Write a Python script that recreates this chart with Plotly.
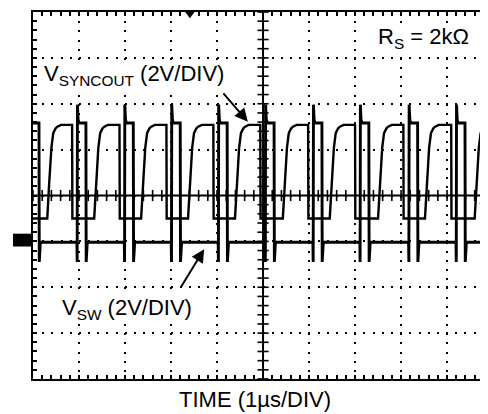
import plotly.graph_objects as go

# ---- data (time in µs = divisions, level in divisions) ----
sync_rise = [-0.72, 0.31, 1.33, 2.35, 3.37, 4.39, 5.43, 6.45, 7.50, 8.52, 9.60]
sync_fall = [-0.16, 0.85, 1.88, 2.90, 3.92, 4.94, 5.98, 7.00, 8.05, 9.09, 10.15]
rise_dt = [0.0, 0.04, 0.09, 0.13, 0.18, 0.22, 0.30]
rise_lvl = [-0.50, 0.24, 1.04, 1.36, 1.46, 1.50, 1.54]
sync_high = 1.54
sync_low = -0.50

sw_on = [-0.06, 0.96, 1.99, 3.01, 4.03, 5.05, 6.09, 7.11, 8.17, 9.20]
sw_off = [0.13, 1.15, 2.18, 3.20, 4.22, 5.24, 6.28, 7.30, 8.36, 9.39]
sw_base = -1.02
sw_plateau = 1.58
sw_peak = 1.98
sw_dip = -1.45

FONT = "Liberation Sans, Arial, Helvetica, sans-serif"
FS = 22

# ---- build VSYNCOUT trace ----
sx, sy = [-0.9], [sync_low]
for i, r in enumerate(sync_rise):
    for dt, v in zip(rise_dt, rise_lvl):
        sx.append(r + dt)
        sy.append(v)
    f = sync_fall[i]
    sx += [f, f + 0.006]
    sy += [sync_high, sync_low]

# ---- build VSW trace ----
wx, wy = [-0.9], [sw_base]
for on, off in zip(sw_on, sw_off):
    wx += [on - 0.006, on, on + 0.006, on + 0.02, on + 0.04, off, off + 0.006, off + 0.03]
    wy += [sw_base, sw_dip, sw_peak, sw_plateau + 0.08, sw_plateau, sw_plateau, sw_dip, sw_base]
wx.append(10.5)
wy.append(sw_base)

fig = go.Figure()
fig.add_trace(go.Scatter(x=sx, y=sy, mode="lines",
                         line=dict(color="black", width=2.4), hoverinfo="skip"))
fig.add_trace(go.Scatter(x=wx, y=wy, mode="lines",
                         line=dict(color="black", width=2.9), hoverinfo="skip"))

# centre graticule tick marks
minor_pos_y = [k * 0.2 for k in range(-20, 21) if k != 0]
minor_pos_x = [k * 0.2 for k in range(0, 50) if k != 25]
fig.add_trace(go.Scatter(x=[5] * len(minor_pos_y), y=minor_pos_y, mode="markers",
                         marker=dict(symbol="line-ew", size=8,
                                     line=dict(color="black", width=1.6)),
                         hoverinfo="skip"))
fig.add_trace(go.Scatter(x=minor_pos_x, y=[0] * len(minor_pos_x), mode="markers",
                         marker=dict(symbol="line-ns", size=8,
                                     line=dict(color="black", width=1.6)),
                         hoverinfo="skip"))

shapes = [
    # white patches behind the labels (grid dots do not show through the text)
    dict(type="rect", xref="x", yref="y", x0=0.15, x1=4.26, y0=2.35, y1=2.93,
         fillcolor="white", line=dict(width=0), layer="between"),
    dict(type="rect", xref="x", yref="y", x0=7.41, x1=9.59, y0=3.08, y1=3.72,
         fillcolor="white", line=dict(width=0), layer="between"),
    dict(type="rect", xref="x", yref="y", x0=0.54, x1=3.52, y0=-2.72, y1=-2.13,
         fillcolor="white", line=dict(width=0), layer="between"),
    dict(type="line", xref="x", yref="y", x0=5, x1=5, y0=-4, y1=4,
         line=dict(color="black", width=2)),
    dict(type="line", xref="x", yref="y", x0=0, x1=10, y0=0, y1=0,
         line=dict(color="black", width=2)),
    # ground marker for channel
    dict(type="rect", xref="paper", yref="paper", x0=-0.044, x1=0,
         y0=0.361, y1=0.396, fillcolor="black", line=dict(width=0)),
    # trigger position marker
    dict(type="path", xref="x", yref="paper",
         path="M 3.31,1 L 3.51,1 L 3.41,0.983 Z", fillcolor="black",
         line=dict(width=0)),
    # trigger level marker
    dict(type="path", xref="x", yref="y",
         path="M 9.70,-0.17 L 9.81,-0.10 L 9.81,-0.24 Z", fillcolor="black",
         line=dict(width=0)),
    dict(type="line", xref="x", yref="y", x0=9.78, x1=9.9, y0=-0.17, y1=-0.17,
         line=dict(color="black", width=1.6)),
]

annotations = [
    dict(text="V<sub>SYNCOUT</sub> (2V/DIV)", x=0.2, y=2.62, xref="x", yref="y",
         xanchor="left", yanchor="middle", showarrow=False,
         font=dict(family=FONT, size=FS, color="black")),
    dict(text="R<sub>S</sub> = 2kΩ", x=7.46, y=3.44, xref="x", yref="y",
         xanchor="left", yanchor="middle", showarrow=False,
         font=dict(family=FONT, size=FS, color="black")),
    dict(text="V<sub>SW</sub> (2V/DIV)", x=0.59, y=-2.47, xref="x", yref="y",
         xanchor="left", yanchor="middle", showarrow=False,
         font=dict(family=FONT, size=FS, color="black")),
    dict(text="TIME (1µs/DIV)", x=0.488, y=-0.057, xref="paper", yref="paper",
         xanchor="center", yanchor="middle", showarrow=False,
         font=dict(family=FONT, size=FS, color="black")),
    dict(text="", x=4.67, y=1.61, ax=4.11, ay=2.26, xref="x", yref="y",
         axref="x", ayref="y", showarrow=True, arrowhead=2, arrowsize=1.3,
         arrowwidth=2, arrowcolor="black"),
    dict(text="", x=3.72, y=-1.17, ax=3.2, ay=-2.02, xref="x", yref="y",
         axref="x", ayref="y", showarrow=True, arrowhead=2, arrowsize=1.3,
         arrowwidth=2, arrowcolor="black"),
]

axis_common = dict(
    dtick=1, tick0=0, showgrid=True, gridcolor="black", gridwidth=2,
    griddash="2px,7.18px", showline=True, linecolor="black", linewidth=2,
    ticks="inside", ticklen=4, tickwidth=1.6, tickcolor="black",
    minor=dict(dtick=0.2, ticks="inside", ticklen=4, tickwidth=1.6,
               tickcolor="black", showgrid=False),
    showticklabels=False, zeroline=False, fixedrange=True,
)

# the page body adds an 8px margin, so the figure is 8px smaller than the window
fig.update_layout(
    width=480, height=406,
    margin=dict(l=25, r=0, t=4, b=35),
    paper_bgcolor="white", plot_bgcolor="white",
    showlegend=False,
    shapes=shapes, annotations=annotations,
    xaxis=dict(range=[0, 9.89], mirror="ticks", **axis_common),
    yaxis=dict(range=[-4, 4], mirror=False, **axis_common),
)

fig.write_html("out.html")
